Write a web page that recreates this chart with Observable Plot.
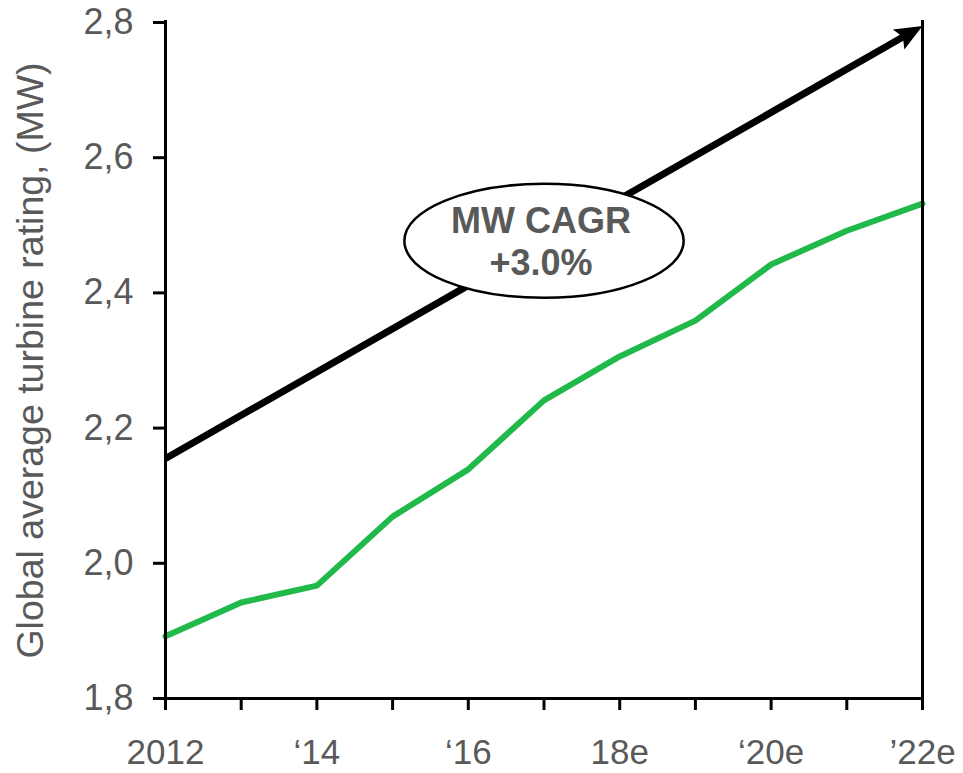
<!DOCTYPE html>
<html>
<head>
<meta charset="utf-8">
<script src="https://cdn.jsdelivr.net/npm/d3@7"></script>
<script src="https://cdn.jsdelivr.net/npm/@observablehq/plot@0.6"></script>
<style>
  html, body { margin: 0; padding: 0; background: #ffffff; }
  #chart { width: 963px; height: 773px; }
</style>
</head>
<body>
<div id="chart"></div>
<script>
// ---- data ----
const years = [2012, 2013, 2014, 2015, 2016, 2017, 2018, 2019, 2020, 2021, 2022];
const rating = [1.892, 1.942, 1.967, 2.069, 2.139, 2.241, 2.306, 2.359, 2.442, 2.492, 2.532];
const trendYears = [2012, 2022];
const trendValues = [2.155, 2.795];
const yTicks = [1.8, 2.0, 2.2, 2.4, 2.6, 2.8];
const xLabelYears = [2012, 2014, 2016, 2018, 2020, 2022];
const xLabels = ["2012", "\u201814", "\u201816", "18e", "\u201820e", "\u201922e"];
const annotationLines = ["MW CAGR", "+3.0%"];
const annotationX = [2017];
const annotationY = [2.477];
const yTitle = "Global average turbine rating, (MW)";

// ---- derived tables ----
const series = years.map((year, i) => ({year, value: rating[i]}));
const trend = [{x1: trendYears[0], y1: trendValues[0], x2: trendYears[1], y2: trendValues[1]}];
const tip = [{x: trendYears[1], y: trendValues[1]}];
const note = annotationX.map((x, i) => ({x, y: annotationY[i], text: annotationLines.join("\n")}));

const textGray = "#595959";
const font = "'Liberation Sans', Arial, Helvetica, sans-serif";

const layout = {
  width: 963,
  height: 773,
  marginLeft: 165,
  marginRight: 41,
  marginTop: 22,
  marginBottom: 75,
  x: {type: "linear", domain: [trendYears[0], trendYears[1]]},
  y: {domain: [yTicks[0], yTicks[yTicks.length - 1]]}
};

// first pass: obtain the scales to orient the arrowhead along the trend line
const probe = Plot.plot({...layout, marks: [Plot.dot(tip, {x: "x", y: "y"})]});
const sx = probe.scale("x"), sy = probe.scale("y");
const angle = Math.atan2(
  sy.apply(trendValues[1]) - sy.apply(trendValues[0]),
  sx.apply(trendYears[1]) - sx.apply(trendYears[0])
) * 180 / Math.PI;

// ellipse symbol for the annotation bubble
const ellipse = {
  draw(ctx, size) {
    const r = Math.sqrt(size / Math.PI);
    const ry = r, rx = r * 2.45, k = 0.5522847498;
    ctx.moveTo(rx, 0);
    ctx.bezierCurveTo(rx, k * ry, k * rx, ry, 0, ry);
    ctx.bezierCurveTo(-k * rx, ry, -rx, k * ry, -rx, 0);
    ctx.bezierCurveTo(-rx, -k * ry, -k * rx, -ry, 0, -ry);
    ctx.bezierCurveTo(k * rx, -ry, rx, -k * ry, rx, 0);
    ctx.closePath();
  }
};

// filled arrowhead with its tip at the symbol origin, pointing along +x
const arrowHead = {
  draw(ctx, size) {
    const r = Math.sqrt(size / Math.PI);
    const len = r * 2.5, half = r * 1.05;
    ctx.moveTo(0, 0);
    ctx.lineTo(-len, half);
    ctx.lineTo(-len * 0.82, 0);
    ctx.lineTo(-len, -half);
    ctx.closePath();
  }
};

const chart = Plot.plot({
  ...layout,
  style: {fontFamily: font, fontSize: "36px", background: "#ffffff"},
  marks: [
    Plot.line(series, {x: "year", y: "value", stroke: "#22b94b", strokeWidth: 6}),
    Plot.arrow(trend, {x1: "x1", y1: "y1", x2: "x2", y2: "y2", stroke: "#000000", strokeWidth: 7, headLength: 0, insetEnd: 16, strokeLinecap: "butt"}),
    Plot.dot(tip, {x: "x", y: "y", r: 11, symbol: arrowHead, rotate: angle, fill: "#000000", stroke: "none"}),
    Plot.dot(note, {x: "x", y: "y", r: 57, symbol: ellipse, fill: "#ffffff", stroke: "#000000", strokeWidth: 2.5}),
    Plot.text(note, {x: "x", y: "y", text: "text", dx: -3, lineHeight: 1.17, fontSize: 36, fontWeight: "bold", fill: textGray}),
    Plot.ruleX([trendYears[0], trendYears[1]], {stroke: "#000000", strokeWidth: 3, insetTop: -2}),
    Plot.ruleY([yTicks[0]], {stroke: "#000000", strokeWidth: 3}),
    Plot.axisY(yTicks, {tickSize: 12, tickPadding: 20, strokeWidth: 3, stroke: "#000000", fill: textGray, fontSize: 36,
      tickFormat: d => d.toFixed(1).replace(".", ","), label: null}),
    Plot.axisX(years, {tickSize: 12, strokeWidth: 3, stroke: "#000000", fill: "none", label: null}),
    Plot.axisX(xLabelYears, {tickSize: 0, tickPadding: 41, fill: textGray, fontSize: 35,
      tickFormat: d => xLabels[xLabelYears.indexOf(d)], label: null}),
    Plot.text([yTitle], {frameAnchor: "left", textAnchor: "middle", rotate: -90, dx: -135, fill: textGray, fontSize: 37.5})
  ]
});
document.getElementById("chart").appendChild(chart);
</script>
</body>
</html>
